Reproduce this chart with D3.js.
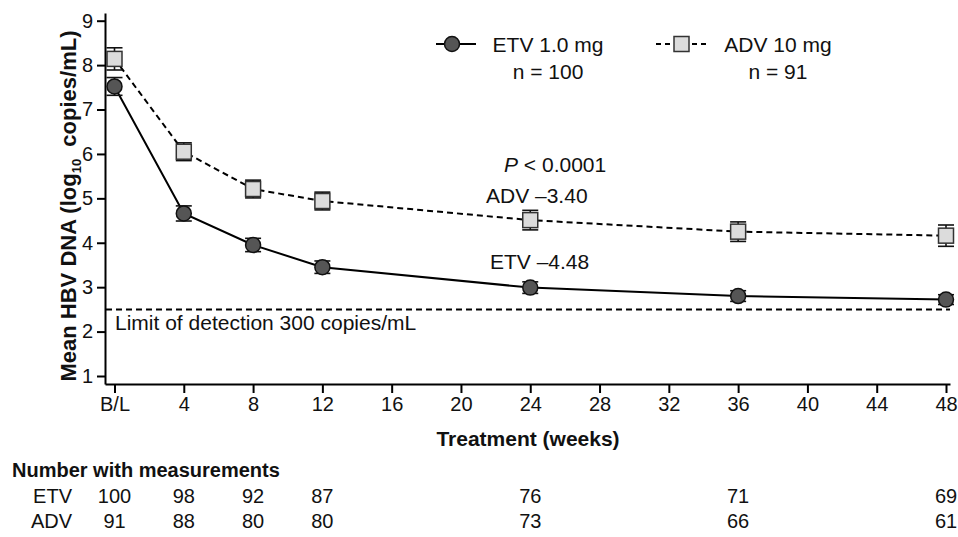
<!DOCTYPE html>
<html>
<head>
<meta charset="utf-8">
<script src="https://cdn.jsdelivr.net/npm/d3@7"></script>
<style>
  html, body { margin: 0; padding: 0; background: #fff; }
  svg { display: block; font-family: Arial, "Liberation Sans", Helvetica, sans-serif; }
</style>
</head>
<body>
<svg id="chart" width="958" height="537"></svg>
<script>
// ---- data ----
const weeks = [0, 4, 8, 12, 24, 36, 48];
const etvMean = [7.52, 4.66, 3.95, 3.45, 2.99, 2.80, 2.72];
const etvErr  = [0.20, 0.17, 0.15, 0.14, 0.13, 0.12, 0.11];
const advMean = [8.14, 6.05, 5.21, 4.94, 4.51, 4.25, 4.16];
const advErr  = [0.25, 0.20, 0.20, 0.20, 0.22, 0.22, 0.24];
const etvN = [100, 98, 92, 87, 76, 71, 69];
const advN = [91, 88, 80, 80, 73, 66, 61];
const xTicks = [0, 4, 8, 12, 16, 20, 24, 28, 32, 36, 40, 44, 48];
const xTickLabels = ["B/L", "4", "8", "12", "16", "20", "24", "28", "32", "36", "40", "44", "48"];
const yTicks = [1, 2, 3, 4, 5, 6, 7, 8, 9];
const limitOfDetection = 2.5;

const svg = d3.select("#chart");

// scales: week 0 at x=114.5, week 48 at x=946
const pxPerWeek = (946 - 114.5) / 48;
const x = d3.scaleLinear()
  .domain([(105 - 114.5) / pxPerWeek, (950 - 114.5) / pxPerWeek])
  .range([105, 950]);
const pxPerUnit = (376 - 20.7) / 8;
const y = d3.scaleLinear()
  .domain([1 - (384 - 376) / pxPerUnit, 9 + (20.7 - 13) / pxPerUnit])
  .range([384, 13]);

// axes
const xAxis = d3.axisBottom(x).tickValues(xTicks)
  .tickFormat((d, i) => xTickLabels[i]).tickSize(9).tickSizeOuter(0).tickPadding(4);
const gx = svg.append("g").attr("transform", "translate(0,384)").call(xAxis);
gx.select(".domain").attr("stroke", "#000").attr("stroke-width", 2);
gx.selectAll(".tick line").attr("stroke", "#000").attr("stroke-width", 2);
gx.selectAll(".tick text").attr("fill", "#111").attr("font-size", 20).attr("font-family", "Arial, 'Liberation Sans', sans-serif");

const yAxis = d3.axisLeft(y).tickValues(yTicks).tickSize(8).tickSizeOuter(0).tickPadding(4);
const gy = svg.append("g").attr("transform", "translate(105,0)").call(yAxis);
gy.select(".domain").attr("stroke", "#000").attr("stroke-width", 2);
gy.selectAll(".tick line").attr("stroke", "#000").attr("stroke-width", 2);
gy.selectAll(".tick text").attr("fill", "#111").attr("font-size", 20).attr("font-family", "Arial, 'Liberation Sans', sans-serif");

// axis titles
const yl = svg.append("text")
  .attr("transform", "translate(76,206) rotate(-90)")
  .attr("text-anchor", "middle")
  .attr("font-size", 22).attr("font-weight", "bold").attr("fill", "#111");
yl.append("tspan").text("Mean HBV DNA (log");
yl.append("tspan").text("10").attr("font-size", 13).attr("dy", 5);
yl.append("tspan").text("\u00a0 copies/mL)").attr("dy", -5);

svg.append("text").attr("x", 528).attr("y", 446).attr("text-anchor", "middle")
  .attr("font-size", 21).attr("font-weight", "bold").attr("fill", "#111")
  .text("Treatment (weeks)");

// limit of detection
svg.append("line").attr("x1", 106).attr("x2", 950)
  .attr("y1", y(limitOfDetection)).attr("y2", y(limitOfDetection))
  .attr("stroke", "#000").attr("stroke-width", 2).attr("stroke-dasharray", "6,4");
svg.append("text").attr("x", 115).attr("y", 330).attr("font-size", 21).attr("fill", "#111")
  .text("Limit of detection 300 copies/mL");

// lines
const line = d3.line().x(d => x(d[0])).y(d => y(d[1]));
const etvPts = weeks.map((w, i) => [w, etvMean[i], etvErr[i]]);
const advPts = weeks.map((w, i) => [w, advMean[i], advErr[i]]);

svg.append("path").datum(advPts).attr("d", line).attr("fill", "none")
  .attr("stroke", "#000").attr("stroke-width", 2).attr("stroke-dasharray", "6,4");
svg.append("path").datum(etvPts).attr("d", line).attr("fill", "none")
  .attr("stroke", "#000").attr("stroke-width", 2);

// error bars
function errorBars(pts) {
  const g = svg.append("g").attr("stroke", "#111").attr("stroke-width", 1.6);
  pts.forEach(p => {
    const cx = x(p[0]);
    const yt = y(p[1] + p[2]), yb = y(p[1] - p[2]);
    g.append("line").attr("x1", cx).attr("x2", cx).attr("y1", yt).attr("y2", yb);
    g.append("line").attr("x1", cx - 8).attr("x2", cx + 8).attr("y1", yt).attr("y2", yt);
    g.append("line").attr("x1", cx - 8).attr("x2", cx + 8).attr("y1", yb).attr("y2", yb);
  });
}
errorBars(advPts);
errorBars(etvPts);

// markers
svg.append("g").selectAll("rect").data(advPts).join("rect")
  .attr("x", d => x(d[0]) - 7.5).attr("y", d => y(d[1]) - 7.5)
  .attr("width", 15).attr("height", 15)
  .attr("fill", "#dcdcdc").attr("stroke", "#333").attr("stroke-width", 1.5);
svg.append("g").selectAll("circle").data(etvPts).join("circle")
  .attr("cx", d => x(d[0])).attr("cy", d => y(d[1])).attr("r", 7.5)
  .attr("fill", "#555").attr("stroke", "#111").attr("stroke-width", 1.5);

// annotations
const pt = svg.append("text").attr("x", 504).attr("y", 172).attr("font-size", 21).attr("fill", "#111");
pt.append("tspan").text("P").attr("font-style", "italic");
pt.append("tspan").text(" < 0.0001");
svg.append("text").attr("x", 486).attr("y", 203).attr("font-size", 21).attr("fill", "#111").text("ADV \u20133.40");
svg.append("text").attr("x", 490).attr("y", 269).attr("font-size", 21).attr("fill", "#111").text("ETV \u20134.48");

// legend
const lg = svg.append("g");
lg.append("line").attr("x1", 436).attr("x2", 476).attr("y1", 44).attr("y2", 44)
  .attr("stroke", "#000").attr("stroke-width", 2);
lg.append("circle").attr("cx", 452).attr("cy", 44).attr("r", 7.5)
  .attr("fill", "#555").attr("stroke", "#111").attr("stroke-width", 1.5);
lg.append("text").attr("x", 548).attr("y", 52).attr("text-anchor", "middle").attr("font-size", 21).attr("fill", "#111").text("ETV 1.0 mg");
lg.append("text").attr("x", 548).attr("y", 79).attr("text-anchor", "middle").attr("font-size", 21).attr("fill", "#111").text("n = 100");

lg.append("line").attr("x1", 656).attr("x2", 707).attr("y1", 44).attr("y2", 44)
  .attr("stroke", "#000").attr("stroke-width", 2).attr("stroke-dasharray", "5,4");
lg.append("rect").attr("x", 674).attr("y", 36.5).attr("width", 15).attr("height", 15)
  .attr("fill", "#dcdcdc").attr("stroke", "#333").attr("stroke-width", 1.5);
lg.append("text").attr("x", 778).attr("y", 52).attr("text-anchor", "middle").attr("font-size", 21).attr("fill", "#111").text("ADV 10 mg");
lg.append("text").attr("x", 778).attr("y", 79).attr("text-anchor", "middle").attr("font-size", 21).attr("fill", "#111").text("n = 91");

// number at risk table
svg.append("text").attr("x", 12).attr("y", 477).attr("font-size", 20).attr("font-weight", "bold").attr("fill", "#111")
  .text("Number with measurements");
const rows = [["ETV", etvN, 503], ["ADV", advN, 528]];
rows.forEach(r => {
  svg.append("text").attr("x", 72).attr("y", r[2]).attr("text-anchor", "end")
    .attr("font-size", 20).attr("fill", "#111").text(r[0]);
  svg.append("g").selectAll("text").data(r[1]).join("text")
    .attr("x", (d, i) => x(weeks[i])).attr("y", r[2]).attr("text-anchor", "middle")
    .attr("font-size", 20).attr("fill", "#111").text(d => d);
});
</script>
</body>
</html>
